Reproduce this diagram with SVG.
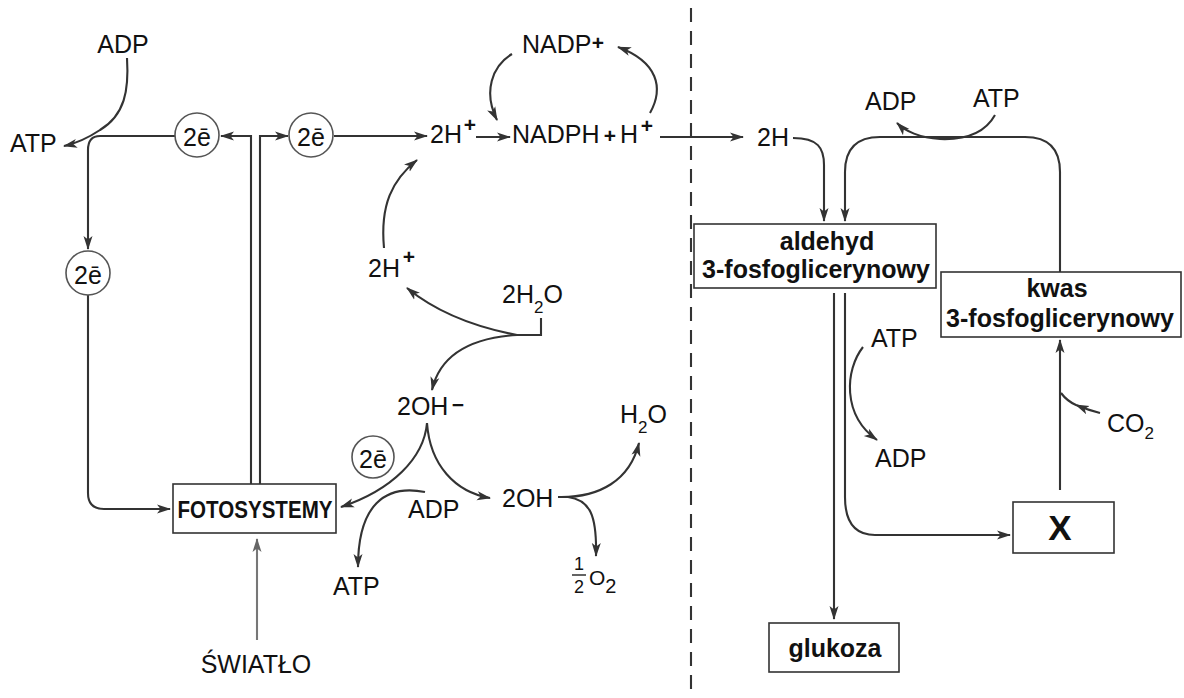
<svg xmlns="http://www.w3.org/2000/svg" width="1184" height="698" viewBox="0 0 1184 698">
<defs>
<marker id="ah" viewBox="0 0 14 10" refX="13" refY="5" markerWidth="14" markerHeight="10" orient="auto" markerUnits="userSpaceOnUse"><path d="M0,0.5 L14,5 L0,9.5 L3.5,5 Z" fill="#333"/></marker>
<marker id="ahg" viewBox="0 0 14 10" refX="13" refY="5" markerWidth="14" markerHeight="10" orient="auto" markerUnits="userSpaceOnUse"><path d="M0,0.5 L14,5 L0,9.5 L3.5,5 Z" fill="#666"/></marker>
</defs>
<style>
.t{font-family:"Liberation Sans",Arial,sans-serif;font-size:25px;fill:#111}
.b{font-weight:bold}
.sup{font-size:21px;font-weight:bold}
.sub{font-size:17px}
.ln{fill:none;stroke:#333;stroke-width:2.1}
.arr{marker-end:url(#ah)}
.box{fill:#fff;stroke:#333;stroke-width:1.6}
.circ{fill:#fff;stroke:#555;stroke-width:1.6}
.e{font-size:25px}
</style>
<rect width="1184" height="698" fill="#fff"/>

<g id="connectors">
<path class="ln" d="M691,8 L691,698" stroke-dasharray="14 9"/>
<path class="ln arr" d="M127,58 C129,90 125,115 100,130 C88,138 78,143 64,146"/>
<path class="ln arr" d="M175,136 L100,136 Q88,136 88,150 L88,249"/>
<path class="ln arr" d="M88,295 L88,493 Q88,509 104,509 L170,509"/>
<path class="ln arr" d="M251,484 L251,136 L221,136"/>
<path class="ln arr" d="M260,484 L260,136 L288,136"/>
<path class="ln arr" d="M334,136 L427,136"/>
<path class="ln arr" d="M476,137 L510,137"/>
<path class="ln arr" d="M660,137 L743,137"/>
<path class="ln arr" d="M512,54 C492,66 483,92 497,120"/>
<path class="ln arr" d="M650,113 C664,88 658,62 618,47"/>
<path class="ln arr" d="M384,248 C380,205 392,180 417,160"/>
<path class="ln" d="M541,318 L541,335 L517,335"/>
<path class="ln arr" d="M517,335 C480,328 440,315 407,288"/>
<path class="ln arr" d="M517,335 C470,338 440,355 432,390"/>
<path class="ln arr" d="M427,423 C424,458 392,490 341,507"/>
<path class="ln arr" d="M427,423 C430,465 455,492 490,498"/>
<path class="ln arr" d="M425,492 C385,484 358,505 358,567"/>
<path class="ln arr" d="M558,497 C600,498 630,480 639,443"/>
<path class="ln arr" d="M568,497 C590,500 597,515 596,556"/>
<path class="ln arr" d="M257,640 L257,539" style="stroke:#777;marker-end:url(#ahg)"/>
<path class="ln arr" d="M793,138 C818,138 824,148 824,165 L824,221"/>
<path class="ln arr" d="M1060,272 L1060,172 Q1060,137 1025,137 L880,137 Q845,137 845,172 L845,221"/>
<path class="ln arr" d="M995,115 C985,133 965,140 940,139 C920,138 905,131 897,123"/>
<path class="ln arr" d="M834,293 L834,619"/>
<path class="ln arr" d="M845,293 L845,497 Q845,535 875,535 L1010,535"/>
<path class="ln arr" d="M863,347 C845,370 842,415 877,440"/>
<path class="ln arr" d="M1060,490 L1060,340"/>
<path class="ln" d="M1100,413 Q1088,410 1076,405 Q1067,401 1061,393" style="marker-mid:url(#ah)"/>
</g>

<g id="adp-top-left"><text class="t" x="123" y="53" text-anchor="middle">ADP</text></g>
<g id="atp-left"><text class="t" x="10" y="152">ATP</text></g>
<g id="e-1"><circle class="circ" cx="197" cy="135" r="22"/><text class="t e" x="197" y="146" text-anchor="middle">2ē</text></g>
<g id="e-2"><circle class="circ" cx="311" cy="135" r="22"/><text class="t e" x="311" y="146" text-anchor="middle">2ē</text></g>
<g id="e-3"><circle class="circ" cx="88" cy="273" r="22"/><text class="t e" x="88" y="284" text-anchor="middle">2ē</text></g>
<g id="e-4"><circle class="circ" cx="373" cy="457" r="21"/><text class="t e" x="373" y="468" text-anchor="middle">2ē</text></g>
<g id="fotosystemy"><rect class="box" x="173" y="484" width="163" height="49"/><text class="t b" x="255" y="518" text-anchor="middle" style="font-size:23px" textLength="155" lengthAdjust="spacingAndGlyphs">FOTOSYSTEMY</text></g>
<g id="swiatlo"><text class="t" x="256" y="673" text-anchor="middle">ŚWIATŁO</text></g>
<g id="nadp"><text class="t" x="522" y="53">NADP</text><text class="t sup" x="598" y="50" text-anchor="middle">+</text></g>
<g id="h2plus-top"><text class="t" x="430" y="143">2H</text><text class="t sup" x="470" y="132" text-anchor="middle">+</text></g>
<g id="nadph"><text class="t" x="512" y="143">NADPH</text><text class="t sup" x="610" y="143" text-anchor="middle">+</text><text class="t" x="620" y="143">H</text><text class="t sup" x="647" y="133" text-anchor="middle">+</text></g>
<g id="h2plus-low"><text class="t" x="368" y="277">2H</text><text class="t sup" x="409" y="264" text-anchor="middle">+</text></g>
<g id="h2o-2"><text class="t" x="502" y="303">2H<tspan class="sub" dy="10">2</tspan><tspan dy="-10">O</tspan></text></g>
<g id="oh-minus"><text class="t" x="397" y="415">2OH</text><text class="t sup" x="458" y="412" text-anchor="middle">−</text></g>
<g id="adp-low"><text class="t" x="408" y="518">ADP</text></g>
<g id="atp-low"><text class="t" x="333" y="595">ATP</text></g>
<g id="oh"><text class="t" x="502" y="507">2OH</text></g>
<g id="h2o"><text class="t" x="620" y="423">H<tspan class="sub" dy="10">2</tspan><tspan dy="-10">O</tspan></text></g>
<g id="o2"><text class="t" x="579" y="570" text-anchor="middle" style="font-size:18px">1</text><path d="M572,575 L586,575" stroke="#222" stroke-width="1.4"/><text class="t" x="579" y="593" text-anchor="middle" style="font-size:18px">2</text><text class="t" x="589" y="585" style="font-size:21px">O<tspan dy="8" style="font-size:20px">2</tspan></text></g>

<g id="h2-right"><text class="t" x="757" y="146">2H</text></g>
<g id="adp-top-right"><text class="t" x="865" y="110">ADP</text></g>
<g id="atp-top-right"><text class="t" x="973" y="107">ATP</text></g>
<g id="aldehyd"><rect class="box" x="694" y="224" width="242" height="64"/><text class="t b" x="827" y="250" text-anchor="middle">aldehyd</text><text class="t b" x="816" y="278" text-anchor="middle">3-fosfoglicerynowy</text></g>
<g id="kwas"><rect class="box" x="941" y="272" width="240" height="65"/><text class="t b" x="1057" y="297" text-anchor="middle">kwas</text><text class="t b" x="1060" y="327" text-anchor="middle">3-fosfoglicerynowy</text></g>
<g id="atp-mid"><text class="t" x="871" y="347">ATP</text></g>
<g id="adp-mid"><text class="t" x="875" y="467">ADP</text></g>
<g id="co2"><text class="t" x="1107" y="432">CO<tspan class="sub" dy="7">2</tspan></text></g>
<g id="x"><rect class="box" x="1013" y="502" width="101" height="51"/><text class="t b" x="1060" y="540" text-anchor="middle" style="font-size:35px">X</text></g>
<g id="glukoza"><rect class="box" x="769" y="623" width="130" height="49"/><text class="t b" x="835" y="657" text-anchor="middle">glukoza</text></g>
</svg>
